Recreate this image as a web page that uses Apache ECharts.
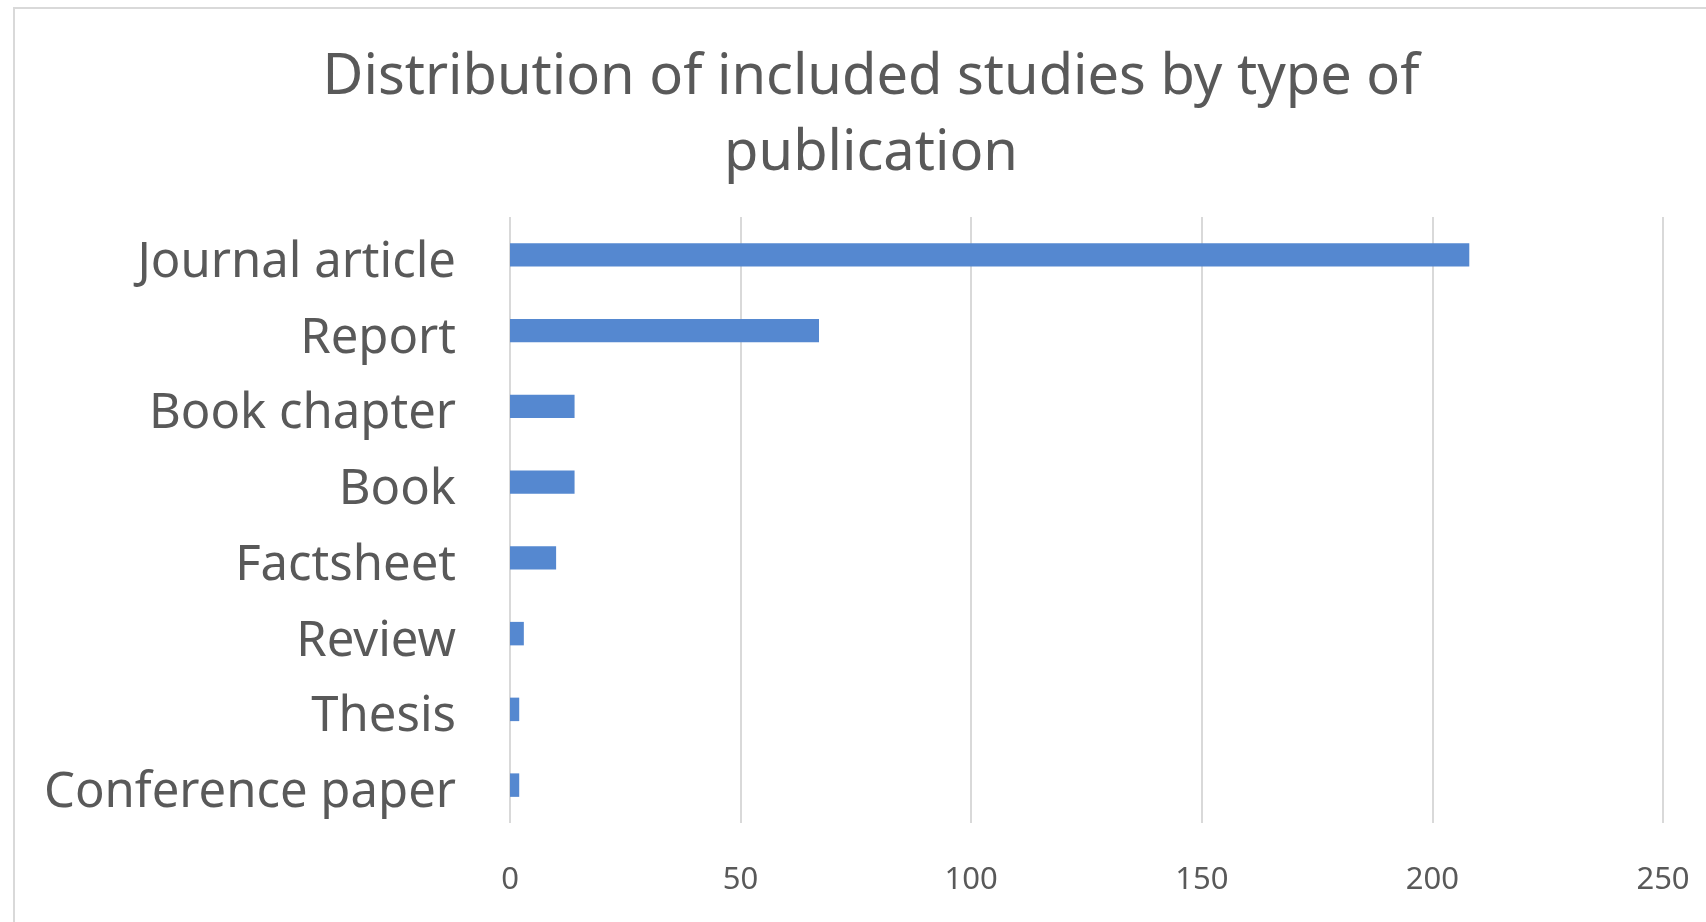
<!DOCTYPE html>
<html>
<head>
<meta charset="utf-8">
<script src="https://cdn.jsdelivr.net/npm/echarts@6/dist/echarts.min.js"></script>
<style>
html,body{margin:0;padding:0;background:#fff;}
#chart{width:1706px;height:922px;}
</style>
</head>
<body>
<div id="chart"></div>
<script>
const titleText = 'Distribution of included studies by type of\npublication';
const categories = ['Journal article', 'Report', 'Book chapter', 'Book', 'Factsheet', 'Review', 'Thesis', 'Conference paper'];
const counts = [208, 67, 14, 14, 10, 3, 2, 2];
const xTicks = [0, 50, 100, 150, 200, 250];

const chart = echarts.init(document.getElementById('chart'));
chart.setOption({
  animation: false,
  backgroundColor: '#ffffff',
  graphic: [{
    type: 'rect',
    shape: { x: 14, y: 8, width: 1800, height: 1000 },
    style: { fill: 'none', stroke: '#d9d9d9', lineWidth: 2 },
    silent: true
  }],
  title: {
    text: titleText,
    left: 866,
    textAlign: 'center',
    top: 35,
    textStyle: {
      fontFamily: 'Noto Sans',
      fontSize: 56,
      fontWeight: 'normal',
      color: '#595959',
      lineHeight: 76
    }
  },
  grid: { left: 510, right: 43, top: 217, bottom: 99, containLabel: false },
  xAxis: {
    type: 'value',
    min: xTicks[0],
    max: xTicks[xTicks.length - 1],
    interval: 50,
    axisLine: { show: false },
    axisTick: { show: false },
    splitLine: { show: true, lineStyle: { color: '#d9d9d9', width: 2 } },
    axisLabel: {
      margin: 42,
      fontFamily: 'Noto Sans',
      fontSize: 31,
      color: '#595959'
    }
  },
  yAxis: {
    type: 'category',
    data: categories,
    inverse: true,
    axisLine: { show: false },
    axisTick: { show: false },
    splitLine: { show: false },
    axisLabel: {
      margin: 54,
      formatter: function (v) { return '{a|' + v + '}'; },
      rich: {
        a: {
          padding: [16, 0, 0, 0],
          fontFamily: 'Noto Sans',
          fontSize: 49,
          color: '#595959'
        }
      },
      fontFamily: 'Noto Sans',
      fontSize: 49,
      color: '#595959'
    }
  },
  series: [{
    type: 'bar',
    data: counts,
    barWidth: '31%',
    itemStyle: { color: '#5588d0' }
  }]
});
</script>
</body>
</html>
